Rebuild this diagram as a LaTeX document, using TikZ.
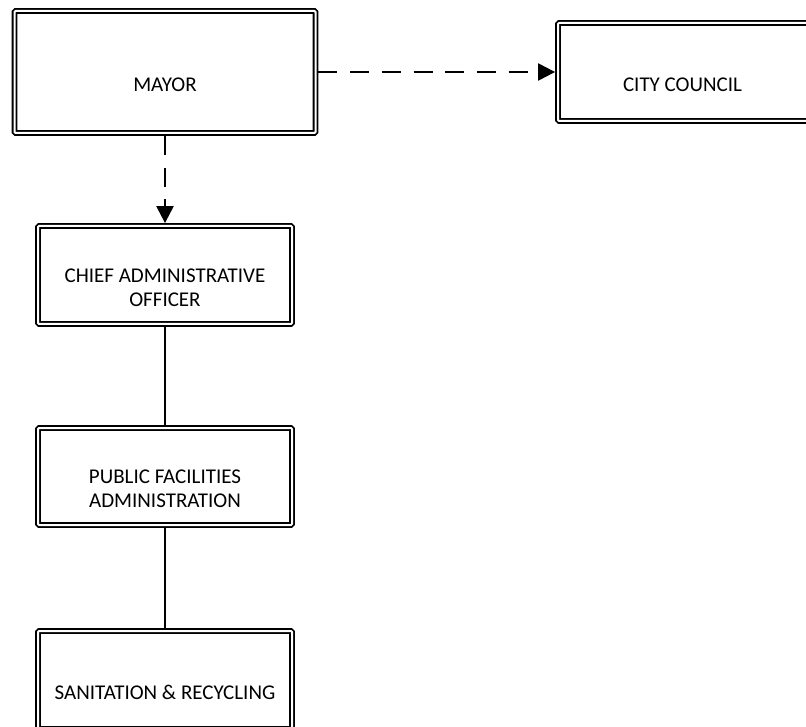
\documentclass[tikz,border=0pt]{standalone}
\usepackage{fontspec}
\setmainfont{Carlito}
\usetikzlibrary{arrows.meta}
\begin{document}
\begin{tikzpicture}[x=1pt,y=-1pt,
  orgbox/.style={draw, double, line width=1.8pt, double distance=2pt,
    rectangle, rounded corners=1pt, inner sep=0pt, outer sep=2.9pt},
  boxtext/.style={font=\fontsize{21}{24}\selectfont, align=center, yshift=-12.5pt},
  dashlink/.style={line width=2.2pt, dash pattern=on 19pt off 12.7pt,
    -{Triangle[length=17pt,width=17pt]}},
  solidlink/.style={line width=1.2pt}]
\useasboundingbox (0,0) rectangle (806,727);

% boxes of the chart
\node[orgbox, minimum width=301pt, minimum height=122pt,
  label={[name=mayortext, boxtext]center:MAYOR}] (mayor) at (165,72) {};
\node[orgbox, minimum width=300pt, minimum height=98pt,
  label={[name=counciltext, boxtext, xshift=-25.5pt]center:CITY COUNCIL}] (council) at (708,72) {};
\node[orgbox, minimum width=254pt, minimum height=98pt,
  label={[name=caotext, boxtext]center:CHIEF ADMINISTRATIVE\\OFFICER}] (cao) at (165,275) {};
\node[orgbox, minimum width=254pt, minimum height=97pt,
  label={[name=pfatext, boxtext]center:PUBLIC FACILITIES\\ADMINISTRATION}] (pfa) at (165,476.5) {};
\node[orgbox, minimum width=254pt, minimum height=98pt,
  label={[name=sanitext, boxtext]center:SANITATION \& RECYCLING}] (sani) at (165,680) {};

% reporting lines
\draw[dashlink] (mayor.east) -- (council.west);
\draw[dashlink] (mayor.south) -- (cao.north);
\draw[solidlink] (cao.south) -- (pfa.north);
\draw[solidlink] (pfa.south) -- (sani.north);
\end{tikzpicture}
\end{document}
